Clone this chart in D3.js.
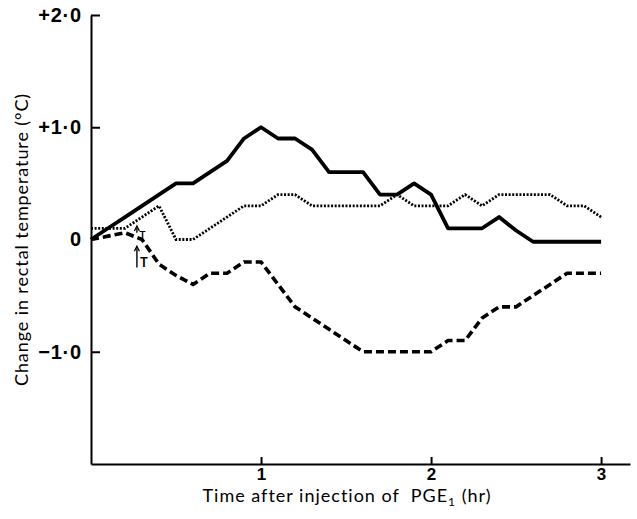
<!DOCTYPE html>
<html>
<head>
<meta charset="utf-8">
<script src="https://cdn.jsdelivr.net/npm/d3@7"></script>
<style>
  body { margin: 0; background: #fff; }
  svg { display: block; font-family: Lato, "Open Sans", sans-serif; }
</style>
</head>
<body>
<svg id="chart" width="637" height="519"></svg>
<script>
const width = 637;
const height = 519;

// time after injection (hr)
const times = [0, 0.1, 0.2, 0.3, 0.4, 0.5, 0.6, 0.7, 0.8, 0.9, 1.0,
  1.1, 1.2, 1.3, 1.4, 1.5, 1.6, 1.7, 1.8, 1.9, 2.0,
  2.1, 2.2, 2.3, 2.4, 2.5, 2.6, 2.7, 2.8, 2.9, 3.0];

// change in rectal temperature (°C)
const solidSeries = [0, 0.1, 0.2, 0.3, 0.4, 0.5, 0.5, 0.6, 0.7, 0.9, 1.0,
  0.9, 0.9, 0.8, 0.6, 0.6, 0.6, 0.4, 0.4, 0.5, 0.4,
  0.1, 0.1, 0.1, 0.2, 0.08, -0.02, -0.02, -0.02, -0.02, -0.02];
const dottedSeries = [0.1, 0.1, 0.1, 0.2, 0.3, 0.0, 0.0, 0.1, 0.2, 0.3, 0.3,
  0.4, 0.4, 0.3, 0.3, 0.3, 0.3, 0.3, 0.4, 0.3, 0.3,
  0.3, 0.4, 0.3, 0.4, 0.4, 0.4, 0.4, 0.3, 0.3, 0.2];
const dashedSeries = [0, 0.03, 0.06, 0.0, -0.22, -0.32, -0.4, -0.3, -0.3, -0.2, -0.2,
  -0.4, -0.6, -0.7, -0.8, -0.9, -1.0, -1.0, -1.0, -1.0, -1.0,
  -0.9, -0.9, -0.7, -0.6, -0.6, -0.5, -0.4, -0.3, -0.3, -0.3];

const xTicks = [1, 2, 3];
const yTicks = [2, 1, 0, -1];
const yTickLabels = ["+2·0", "+1·0", "0", "−1·0"];

// injection markers "T" (time, arrow bottom, arrow top)
const markers = [
  { t: 0.27, y0: -0.25, y1: -0.06, size: "big" },
  { t: 0.27, y0: 0.06, y1: 0.12, size: "small" }
];

const svg = d3.select("#chart");

const x = d3.scaleLinear().domain([0, 3.17]).range([91, 630]);
const y = d3.scaleLinear().domain([-2, 2]).range([464, 15]);

// axes
const yAxis = d3.axisLeft(y)
  .tickValues(yTicks)
  .tickFormat((d, i) => yTickLabels[i])
  .tickSizeInner(-9)
  .tickSizeOuter(0)
  .tickPadding(9);

const xAxis = d3.axisBottom(x)
  .tickValues(xTicks)
  .tickFormat(d3.format("d"))
  .tickSizeInner(-7)
  .tickSizeOuter(0)
  .tickPadding(4);

const gy = svg.append("g")
  .attr("transform", `translate(${x(0)},0)`)
  .call(yAxis);
gy.select(".domain").attr("stroke-width", 2);
gy.selectAll(".tick line").attr("stroke-width", 2)
  .filter(d => d === 0).remove();
gy.selectAll(".tick text")
  .attr("font-size", 20)
  .attr("font-weight", "bold")
  .attr("letter-spacing", 0.8)
  .attr("fill", "#000");

const gx = svg.append("g")
  .attr("transform", `translate(0,${y(-2)})`)
  .call(xAxis);
gx.select(".domain").attr("stroke-width", 2);
gx.selectAll(".tick line").attr("stroke-width", 2);
gx.selectAll(".tick text")
  .attr("font-size", 17)
  .attr("font-weight", "bold")
  .attr("fill", "#000");

// axis titles
svg.append("text")
  .attr("transform", `translate(28,${y(0)}) rotate(-90)`)
  .attr("text-anchor", "middle")
  .attr("font-size", 18)
  .attr("letter-spacing", 0.9)
  .text("Change in rectal temperature (°C)");

const xt = svg.append("text")
  .attr("x", 347)
  .attr("y", 502)
  .attr("text-anchor", "middle")
  .attr("font-size", 18)
  .attr("letter-spacing", 1)
  .style("white-space", "pre");
xt.append("tspan").text("Time after injection of  PGE");
xt.append("tspan").attr("font-size", 12).attr("dy", 4).text("1");
xt.append("tspan").attr("dy", -4).text(" (hr)");

// lines
const line = d3.line()
  .x((d, i) => x(times[i]))
  .y(d => y(d));

svg.append("path")
  .datum(dottedSeries)
  .attr("fill", "none")
  .attr("stroke", "#000")
  .attr("stroke-width", 2.8)
  .attr("stroke-dasharray", "2,1.6")
  .attr("d", line);

svg.append("path")
  .datum(dashedSeries)
  .attr("fill", "none")
  .attr("stroke", "#000")
  .attr("stroke-width", 3.6)
  .attr("stroke-dasharray", "8,4")
  .attr("d", line);

svg.append("path")
  .datum(solidSeries)
  .attr("fill", "none")
  .attr("stroke", "#000")
  .attr("stroke-width", 3.8)
  .attr("stroke-linejoin", "round")
  .attr("d", line);

// T markers with arrows
markers.forEach(m => {
  const mx = x(m.t);
  const top = y(m.y1), bot = y(m.y0);
  const g = svg.append("g");
  g.append("line")
    .attr("x1", mx).attr("x2", mx)
    .attr("y1", bot).attr("y2", top + 2)
    .attr("stroke", "#000").attr("stroke-width", 1.4);
  g.append("path")
    .attr("d", `M${mx - 2.5},${top + 5}L${mx},${top}L${mx + 2.5},${top + 5}`)
    .attr("fill", "none").attr("stroke", "#000").attr("stroke-width", 1.3);
  g.append("text")
    .attr("x", mx + (m.size === "big" ? 3 : 2.5))
    .attr("y", m.size === "big" ? bot - 1 : bot + 5)
    .attr("font-size", m.size === "big" ? 13 : 10)
    .attr("font-weight", "bold")
    .text("T");
});
</script>
</body>
</html>
